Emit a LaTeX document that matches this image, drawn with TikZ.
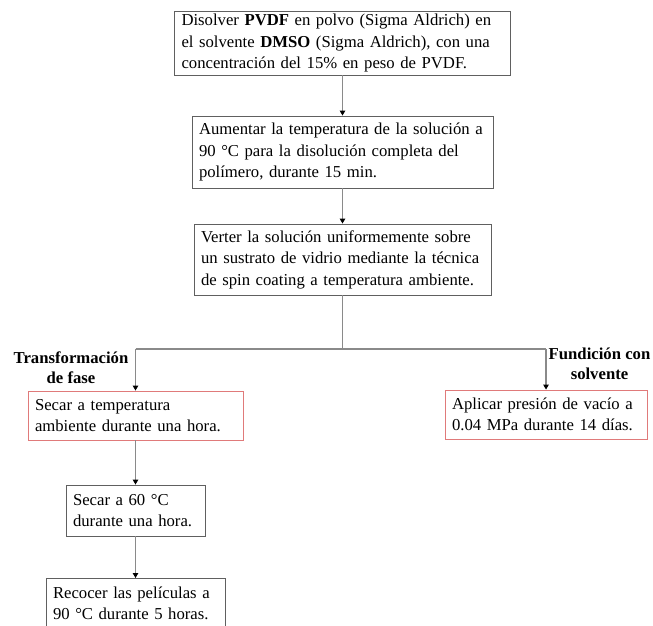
\documentclass[tikz,border=0pt]{standalone}
\usepackage{fontspec}
\setmainfont{Liberation Serif}
\usepackage{tikz}
\usetikzlibrary{arrows.meta}
\usepackage{xcolor}
\definecolor{boxgray}{HTML}{606060}
\definecolor{linegray}{HTML}{8A8A8A}
\definecolor{boxred}{HTML}{E07A7A}

\begin{document}
\begin{tikzpicture}[>={Triangle[length=1mm,width=1.1mm,color=black]},
  font=\fontsize{9.5}{12.2}\selectfont,
  paso/.style={draw=boxgray,line width=0.5pt,align=left,inner xsep=0.14cm,inner ysep=0pt},
  pasorojo/.style={paso,draw=boxred},
  rama/.style={font=\fontsize{9.5}{11.2}\selectfont\bfseries,align=center,inner sep=0pt},
  flecha/.style={draw=linegray,line width=0.6pt,->}]
\useasboundingbox (0,0) rectangle (13.06,12.5);
\node[paso,text width=6.44cm,minimum height=1.28cm] (disolver) at (6.85,11.64)
  {Disolver \textbf{PVDF} en polvo (Sigma Aldrich) en\\el solvente \textbf{DMSO} (Sigma Aldrich), con una\\concentración del 15\% en peso de PVDF.};
\node[paso,text width=5.74cm,minimum height=1.44cm] (aumentar) at (6.85,9.46)
  {Aumentar la temperatura de la solución a\\90 °C para la disolución completa del\\polímero, durante 15 min.};
\node[paso,text width=5.66cm,minimum height=1.42cm] (verter) at (6.85,7.31)
  {Verter la solución uniformemente sobre\\un sustrato de vidrio mediante la técnica\\de spin coating a temperatura ambiente.};
\node[pasorojo,text width=4.02cm,minimum height=0.98cm] (secarA) at (2.71,4.19)
  {Secar a temperatura\\ambiente durante una hora.};
\node[pasorojo,text width=3.76cm,minimum height=0.98cm] (vacio) at (10.92,4.21)
  {Aplicar presión de vacío a\\0.04 MPa durante 14 días.};
\node[paso,text width=2.50cm,minimum height=1.02cm] (secarB) at (2.71,2.29)
  {Secar a 60 °C\\durante una hora.};
\node[paso,text width=3.30cm,minimum height=1.00cm,anchor=north] (recocer) at (2.71,0.94)
  {Recocer las películas a\\90 °C durante 5 horas.};
\node[rama] (fase) at (1.42,5.14) {Transformación\\de fase};
\node[rama] (fundicion) at (11.99,5.22) {Fundición con\\solvente};
\coordinate (split) at (6.85,5.52);
\coordinate (splitL) at (2.71,5.52);
\coordinate (splitR) at (10.92,5.52);
\draw[flecha] (disolver) -- (aumentar);
\draw[flecha] (aumentar) -- (verter);
\draw[draw=linegray,line width=0.6pt] (verter) -- (split);
\draw[draw=linegray,line width=0.6pt] (splitL) -- (splitR);
\draw[flecha] (splitL) -- (secarA);
\draw[flecha] (splitR) -- (vacio);
\draw[flecha] (secarA) -- (secarB);
\draw[flecha] (secarB) -- (recocer);
\end{tikzpicture}
\end{document}
